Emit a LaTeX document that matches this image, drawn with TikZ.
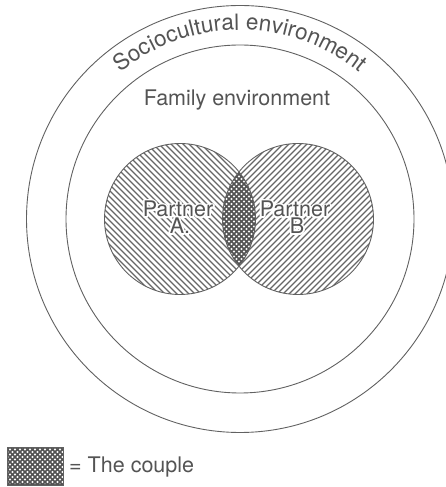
\documentclass[tikz,border=0pt]{standalone}
\usepackage{fontspec}
\setmainfont{TeX Gyre Heros}
\usetikzlibrary{decorations.text}
\definecolor{lc}{gray}{0.38}
\definecolor{tc}{gray}{0.33}
\definecolor{hc}{gray}{0.40}
\definecolor{xc}{gray}{0.32}
\begin{document}
\begin{tikzpicture}[x=1pt,y=1pt,
  ring/.style={draw=lc, line width=0.9pt, circle, inner sep=0pt, fill=none},
  lbl/.style={text=tc, font=\fontsize{21.5}{21.5}\selectfont, inner sep=0pt},
  halo/.style={lbl, text=white},
  hatch/.style={draw=hc, line width=1.1pt},
  cross/.style={draw=xc, line width=1.5pt},
]
\useasboundingbox (0,0) rectangle (446,487);
\clip (0,0) rectangle (446,487);
\coordinate (c) at (240,268);
\coordinate (pa) at (180,268);
\coordinate (pb) at (298,268);
% hatching partner A
\begin{scope}
  \clip (pa) circle (75.5);
  \foreach \k in {-22,...,22} \draw[hatch] ({80+6*\k},368) -- ++(200,-200);
\end{scope}
% hatching partner B
\begin{scope}
  \clip (pb) circle (75.5);
  \foreach \k in {-22,...,22} \draw[hatch] ({198+6*\k},168) -- ++(200,200);
\end{scope}
% the couple (lens)
\begin{scope}
  \clip (pa) circle (75.5);
  \clip (pb) circle (75.5);
  \fill[white] (pa) circle (80);
  \foreach \k in {-20,...,20} {
    \draw[cross] ({179+5*\k},328) -- ++(120,-120);
    \draw[cross] ({179+5*\k},208) -- ++(120,120);
  }
\end{scope}
% circles
\node[ring, minimum size=427pt] (soc) at (c) {};
\node[ring, minimum size=348pt] (fam) at (c) {};
\node[ring, minimum size=151pt] (A) at (pa) {};
\node[ring, minimum size=151pt] (B) at (pb) {};
% labels
\node[lbl, anchor=base] (famtxt) at (237,381) {Family environment};
\path[decorate, decoration={text along path, text align=center, text color=tc,
  text={|\fontsize{22.5}{22.5}\selectfont|Sociocultural environment}}]
  ([shift={(140:189)}]c) arc[start angle=140, end angle=40, radius=189];
\foreach \a in {0,30,...,330} {
  \node[halo, anchor=base, shift={(\a:1.8)}] (hA1-\a) at (178,270) {Partner};
  \node[halo, anchor=base, shift={(\a:1.8)}] (hA2-\a) at (180,253) {A.};
  \node[halo, anchor=base, shift={(\a:1.8)}] (hB1-\a) at (295,270) {Partner};
  \node[halo, anchor=base, shift={(\a:1.8)}] (hB2-\a) at (297,253) {B};
}
\node[lbl, anchor=base] (pA1) at (178,270) {Partner};
\node[lbl, anchor=base] (pA2) at (180,253) {A.};
\node[lbl, anchor=base] (pB1) at (295,270) {Partner};
\node[lbl, anchor=base] (pB2) at (297,253) {B};
% legend
\node[draw=lc, line width=0.8pt, minimum width=56pt, minimum height=37pt, inner sep=0pt, anchor=south west] (key) at (7,2) {};
\begin{scope}
  \clip (key.south west) rectangle (key.north east);
  \foreach \k in {-14,...,14} {
    \draw[cross] ({35+5*\k-40},60) -- ++(80,-80);
    \draw[cross] ({35+5*\k-40},-20) -- ++(80,80);
  }
\end{scope}
\draw[draw=lc, line width=0.8pt] (key.south west) rectangle (key.north east);
\node[lbl, anchor=base west] (keytxt) at (69,14) {= The couple};
\end{tikzpicture}
\end{document}
